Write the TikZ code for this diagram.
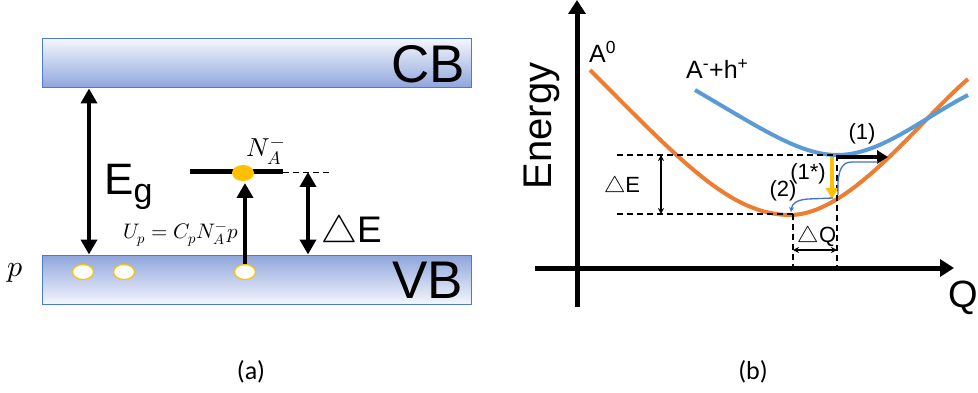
\documentclass[tikz,border=0pt]{standalone}
\usepackage{fontspec}
\usepackage{unicode-math}
\setmainfont{Liberation Sans}
\setmathfont{Latin Modern Math}
\newfontfamily\labfont{Carlito}
\usetikzlibrary{arrows.meta,shapes.geometric}
\definecolor{bandblue}{HTML}{8EA5DC}
\definecolor{bandlight}{HTML}{F4F6FC}
\definecolor{bandedge}{HTML}{4A7BD0}
\definecolor{curveorange}{HTML}{ED7D31}
\definecolor{curveblue}{HTML}{5B9BD5}
\definecolor{thinblue}{HTML}{4472C4}
\definecolor{gold}{HTML}{FFC000}
\tikzset{
  band/.style={draw=bandedge, line width=1pt, minimum width=429pt, minimum height=49pt, inner sep=0pt},
  bigtxt/.style={inner sep=0pt, font=\fontsize{53}{53}\selectfont},
  thickarrow/.style={line width=4pt, -{Triangle[length=15pt,width=16pt]}},
  dblthick/.style={line width=4pt, {Triangle[length=15pt,width=16pt]}-{Triangle[length=15pt,width=16pt]}},
  hole/.style={ellipse, draw=gold, fill=white, line width=1.2pt, minimum width=21pt, minimum height=15pt, inner sep=0pt},
  axis/.style={line width=5pt, -{Triangle[length=14pt,width=17pt]}},
  guide/.style={line width=1.3pt, dash pattern=on 6pt off 4pt},
  thindbl/.style={line width=1.8pt, {Stealth[length=6pt,width=6pt]}-{Stealth[length=6pt,width=6pt]}},
  pot/.style={line width=4pt},
  lbl/.style={inner sep=0pt, font=\fontsize{22}{22}\selectfont},
  caption/.style={inner sep=0pt, font=\labfont\fontsize{26}{26}\selectfont},
}
\begin{document}
\begin{tikzpicture}[x=1pt,y=-1pt]
\useasboundingbox (0,0) rectangle (978,393);
% ---------- panel (a)
\node[band, top color=bandlight, bottom color=bandblue] (cb) at (256.5,63.5) {};
\node[band, top color=bandblue, bottom color=bandlight] (vb) at (256.5,279.5) {};
\node[bigtxt, anchor=base east] (cbt) at (465,83) {CB};
\node[bigtxt, anchor=base east] (vbt) at (463,298) {VB};
% Eg arrow
\coordinate (egx) at (89,0);
\draw[dblthick] (cb.south -| egx) -- (vb.north -| egx);
\node[inner sep=0pt, anchor=base west, font=\fontsize{44}{44}\selectfont] (eg) at (104,194) {E\raisebox{-9pt}{\fontsize{34}{34}\selectfont g}};
% acceptor level
\coordinate (lvl1) at (190,172);
\coordinate (lvl2) at (283,172);
\coordinate (lvl3) at (330,172);
\draw[line width=5pt] (lvl1) -- (lvl2);
\draw[line width=0.8pt, dash pattern=on 6pt off 4pt] (lvl2) -- (lvl3);
\node[ellipse, fill=gold, minimum width=22pt, minimum height=16pt, inner sep=0pt] (acc) at (243,173) {};
\node[inner sep=0pt, anchor=base, font=\fontsize{26}{26}\selectfont] (na) at (266,157) {$N_A^{-}$};
% holes
\node[hole] (h1) at (83,272) {};
\node[hole] (h2) at (124,272) {};
\node[hole] (h3) at (245,272) {};
\coordinate (captip) at (245,183);
\draw[thickarrow] (h3.north) -- (captip);
\node[inner sep=0pt, anchor=base east, font=\fontsize{21}{21}\selectfont] (up) at (239,238) {$U_p = C_pN_A^{-}p$};
\node[inner sep=0pt, anchor=base, font=\fontsize{30}{30}\selectfont] (pl) at (15,276) {$p$};
% Delta E arrow
\coordinate (dex) at (308,0);
\draw[dblthick] (lvl3 -| dex) -- (vb.north -| dex);
\node[inner sep=0pt, anchor=base west, font=\fontsize{37}{37}\selectfont] (de) at (321,242) {$\bigtriangleup$E};
\node[caption] (capa) at (251,372) {(a)};
% ---------- panel (b)
\coordinate (yb) at (577,307);
\coordinate (yt) at (577,0);
\coordinate (xl) at (535,268);
\coordinate (xr) at (954,268);
\draw[axis] (yb) -- (yt);
\draw[axis] (xl) -- (xr);
\node[inner sep=0pt, rotate=90, font=\fontsize{40}{40}\selectfont] (energy) at (542,126) {Energy};
\node[inner sep=0pt, anchor=base east, font=\fontsize{38}{38}\selectfont] (q) at (978,307) {Q};
\node[inner sep=0pt, anchor=base west, font=\fontsize{25}{25}\selectfont] (a0) at (589,63) {A\textsuperscript{0}};
\node[inner sep=0pt, anchor=base west, font=\fontsize{25}{25}\selectfont] (amh) at (686,79) {A\textsuperscript{-}+h\textsuperscript{+}};
% potential curves
\draw[pot, curveorange] (590,70) .. controls (680,160) and (730,215) .. (790,215)
   .. controls (850,215) and (920,120) .. (968,79);
\draw[pot, curveblue] (695,90) .. controls (760,128) and (800,155) .. (837,155)
   .. controls (880,155) and (920,120) .. (968,95);
% guides
\coordinate (g1l) at (617,155);
\coordinate (g1r) at (837,155);
\coordinate (g2l) at (617,214);
\coordinate (g2r) at (793,214);
\coordinate (v1b) at (793,268);
\coordinate (v2b) at (837,268);
\draw[guide] (g1l) -- (g1r);
\draw[guide] (g2l) -- (g2r);
\draw[guide] (g2r) -- (v1b);
\draw[guide] (g1r) -- (v2b);
\coordinate (de2t) at (661,155);
\coordinate (de2b) at (661,214);
\coordinate (dql) at (793,250);
\coordinate (dqr) at (837,250);
\draw[thindbl] (de2t) -- (de2b);
\draw[thindbl] (dql) -- (dqr);
\node[lbl, anchor=base] (de2) at (622,193) {$\bigtriangleup$E};
\node[lbl, anchor=base] (dq) at (817,243) {$\bigtriangleup$Q};
% transitions
\coordinate (b1s) at (837,157);
\coordinate (b1e) at (888,157);
\draw[line width=4pt, -{Triangle[length=11pt,width=13pt]}] (b1s) -- (b1e);
\node[lbl] (l1) at (862,134) {(1)};
\coordinate (ys) at (832,157);
\coordinate (ye) at (832,199);
\draw[line width=3.5pt, gold, -{Triangle[length=11pt,width=12pt]}] (ys) -- (ye);
\node[lbl] (l1s) at (808,174) {(1*)};
\draw[thinblue, line width=1.3pt] (878,162) -- (852,162) .. controls (842,162) and (839,170) .. (838,182) -- (838,195);
\draw[thinblue, line width=1.3pt, -{Stealth[length=5pt,width=5pt]}] (833,198) -- (808,199) .. controls (797,200) and (792,203) .. (791,212);
\node[lbl] (l2) at (783,191) {(2)};
\node[caption] (capb) at (753,372) {(b)};
\end{tikzpicture}
\end{document}
